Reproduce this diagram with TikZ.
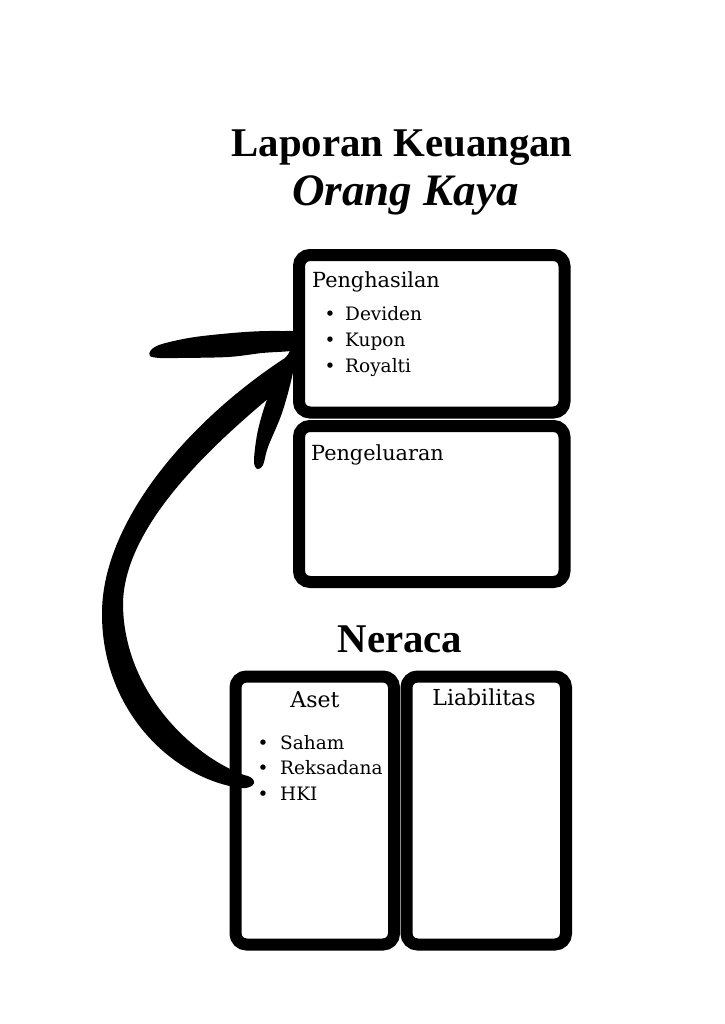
\documentclass[tikz,border=0pt]{standalone}
\usepackage{fontspec}
\setmainfont{DejaVu Serif}
\newfontfamily\titlefont{Liberation Serif}
\begin{document}
\begin{tikzpicture}[x=1pt,y=-1pt,
  box/.style={draw=black,line width=12pt,rounded corners=11pt,fill=white,inner sep=0pt},
  head/.style={font=\fontsize{20.8}{24}\selectfont,anchor=base west,inner sep=0pt},
  headc/.style={font=\fontsize{22}{26}\selectfont,anchor=base,inner sep=0pt},
  item/.style={font=\fontsize{18.5}{22}\selectfont,anchor=base west,inner sep=0pt},
  dot/.style={font=\fontsize{18.5}{22}\selectfont,anchor=base,inner sep=0pt},
  title/.style={font=\titlefont\bfseries\fontsize{40.8}{48}\selectfont,anchor=base,inner sep=0pt},
  script/.style={font=\titlefont\bfseries\itshape\fontsize{45}{52}\selectfont,anchor=base,inner sep=0pt},
  brush/.style={fill=black}]
\useasboundingbox[fill=white] (0,0) rectangle (724,1024);

% titles
\node[title] (t1) at (402,157) {Laporan Keuangan};
\node[script] (t2) at (405.5,206) {Orang Kaya};
\node[title] (t3) at (400,652) {Neraca};

% boxes
\node[box,minimum width=265.5pt,minimum height=157.5pt] (penghasilan) at (431.75,333.75) {};
\node[box,minimum width=265.5pt,minimum height=156pt] (pengeluaran) at (431.75,504) {};
\node[box,minimum width=158.5pt,minimum height=268pt] (aset) at (314.75,810.5) {};
\node[box,minimum width=159.5pt,minimum height=268pt] (liab) at (486.25,810.5) {};

% texts in Penghasilan
\node[head] (h1) at (312,287) {Penghasilan};
\node[dot] (d1) at (330,320) {•};
\node[item] (i1) at (345,320) {Deviden};
\node[dot] (d2) at (330,346) {•};
\node[item] (i2) at (345,346) {Kupon};
\node[dot] (d3) at (330,372) {•};
\node[item] (i3) at (345,372) {Royalti};

\node[head] (h2) at (311,460) {Pengeluaran};

% texts in Neraca
\node[headc] (h3) at (315,707) {Aset};
\node[headc] (h4) at (484,705) {Liabilitas};
\node[dot] (d4) at (263,749) {•};
\node[item] (i4) at (280,749) {Saham};
\node[dot] (d5) at (263,774.5) {•};
\node[item] (i5) at (280,774.5) {Reksadana};
\node[dot] (d6) at (263,800) {•};
\node[item] (i6) at (280,800) {HKI};

% brush arrow from Aset to Penghasilan
\coordinate (tail) at (246,788);
\coordinate (tip) at (303,337);
\fill[brush] (tail) -- (240,788)
  .. controls (172,778) and (101,710) .. (102,612)
  .. controls (103,520) and (190,420) .. (285,358)
  -- (tip) -- (300,352) -- (282,387)
  .. controls (228,432) and (123,520) .. (123,605)
  .. controls (124,690) and (190,755) .. (244,775)
  .. controls (256,777) and (258,786) .. (tail) -- cycle;
\fill[brush] plot[smooth cycle,tension=0.55] coordinates {
  (303,333) (280,331) (245,332) (195,337) (162,344) (151,350) (150,356)
  (160,358) (178,358) (228,357) (262,353) (300,349)};
\fill[brush] plot[smooth cycle,tension=0.55] coordinates {
  (303,342) (296,352) (292,377) (282,413) (268,447) (263,465) (257,469)
  (254,460) (258,430) (268,397) (282,370) (292,347)};
\end{tikzpicture}
\end{document}
